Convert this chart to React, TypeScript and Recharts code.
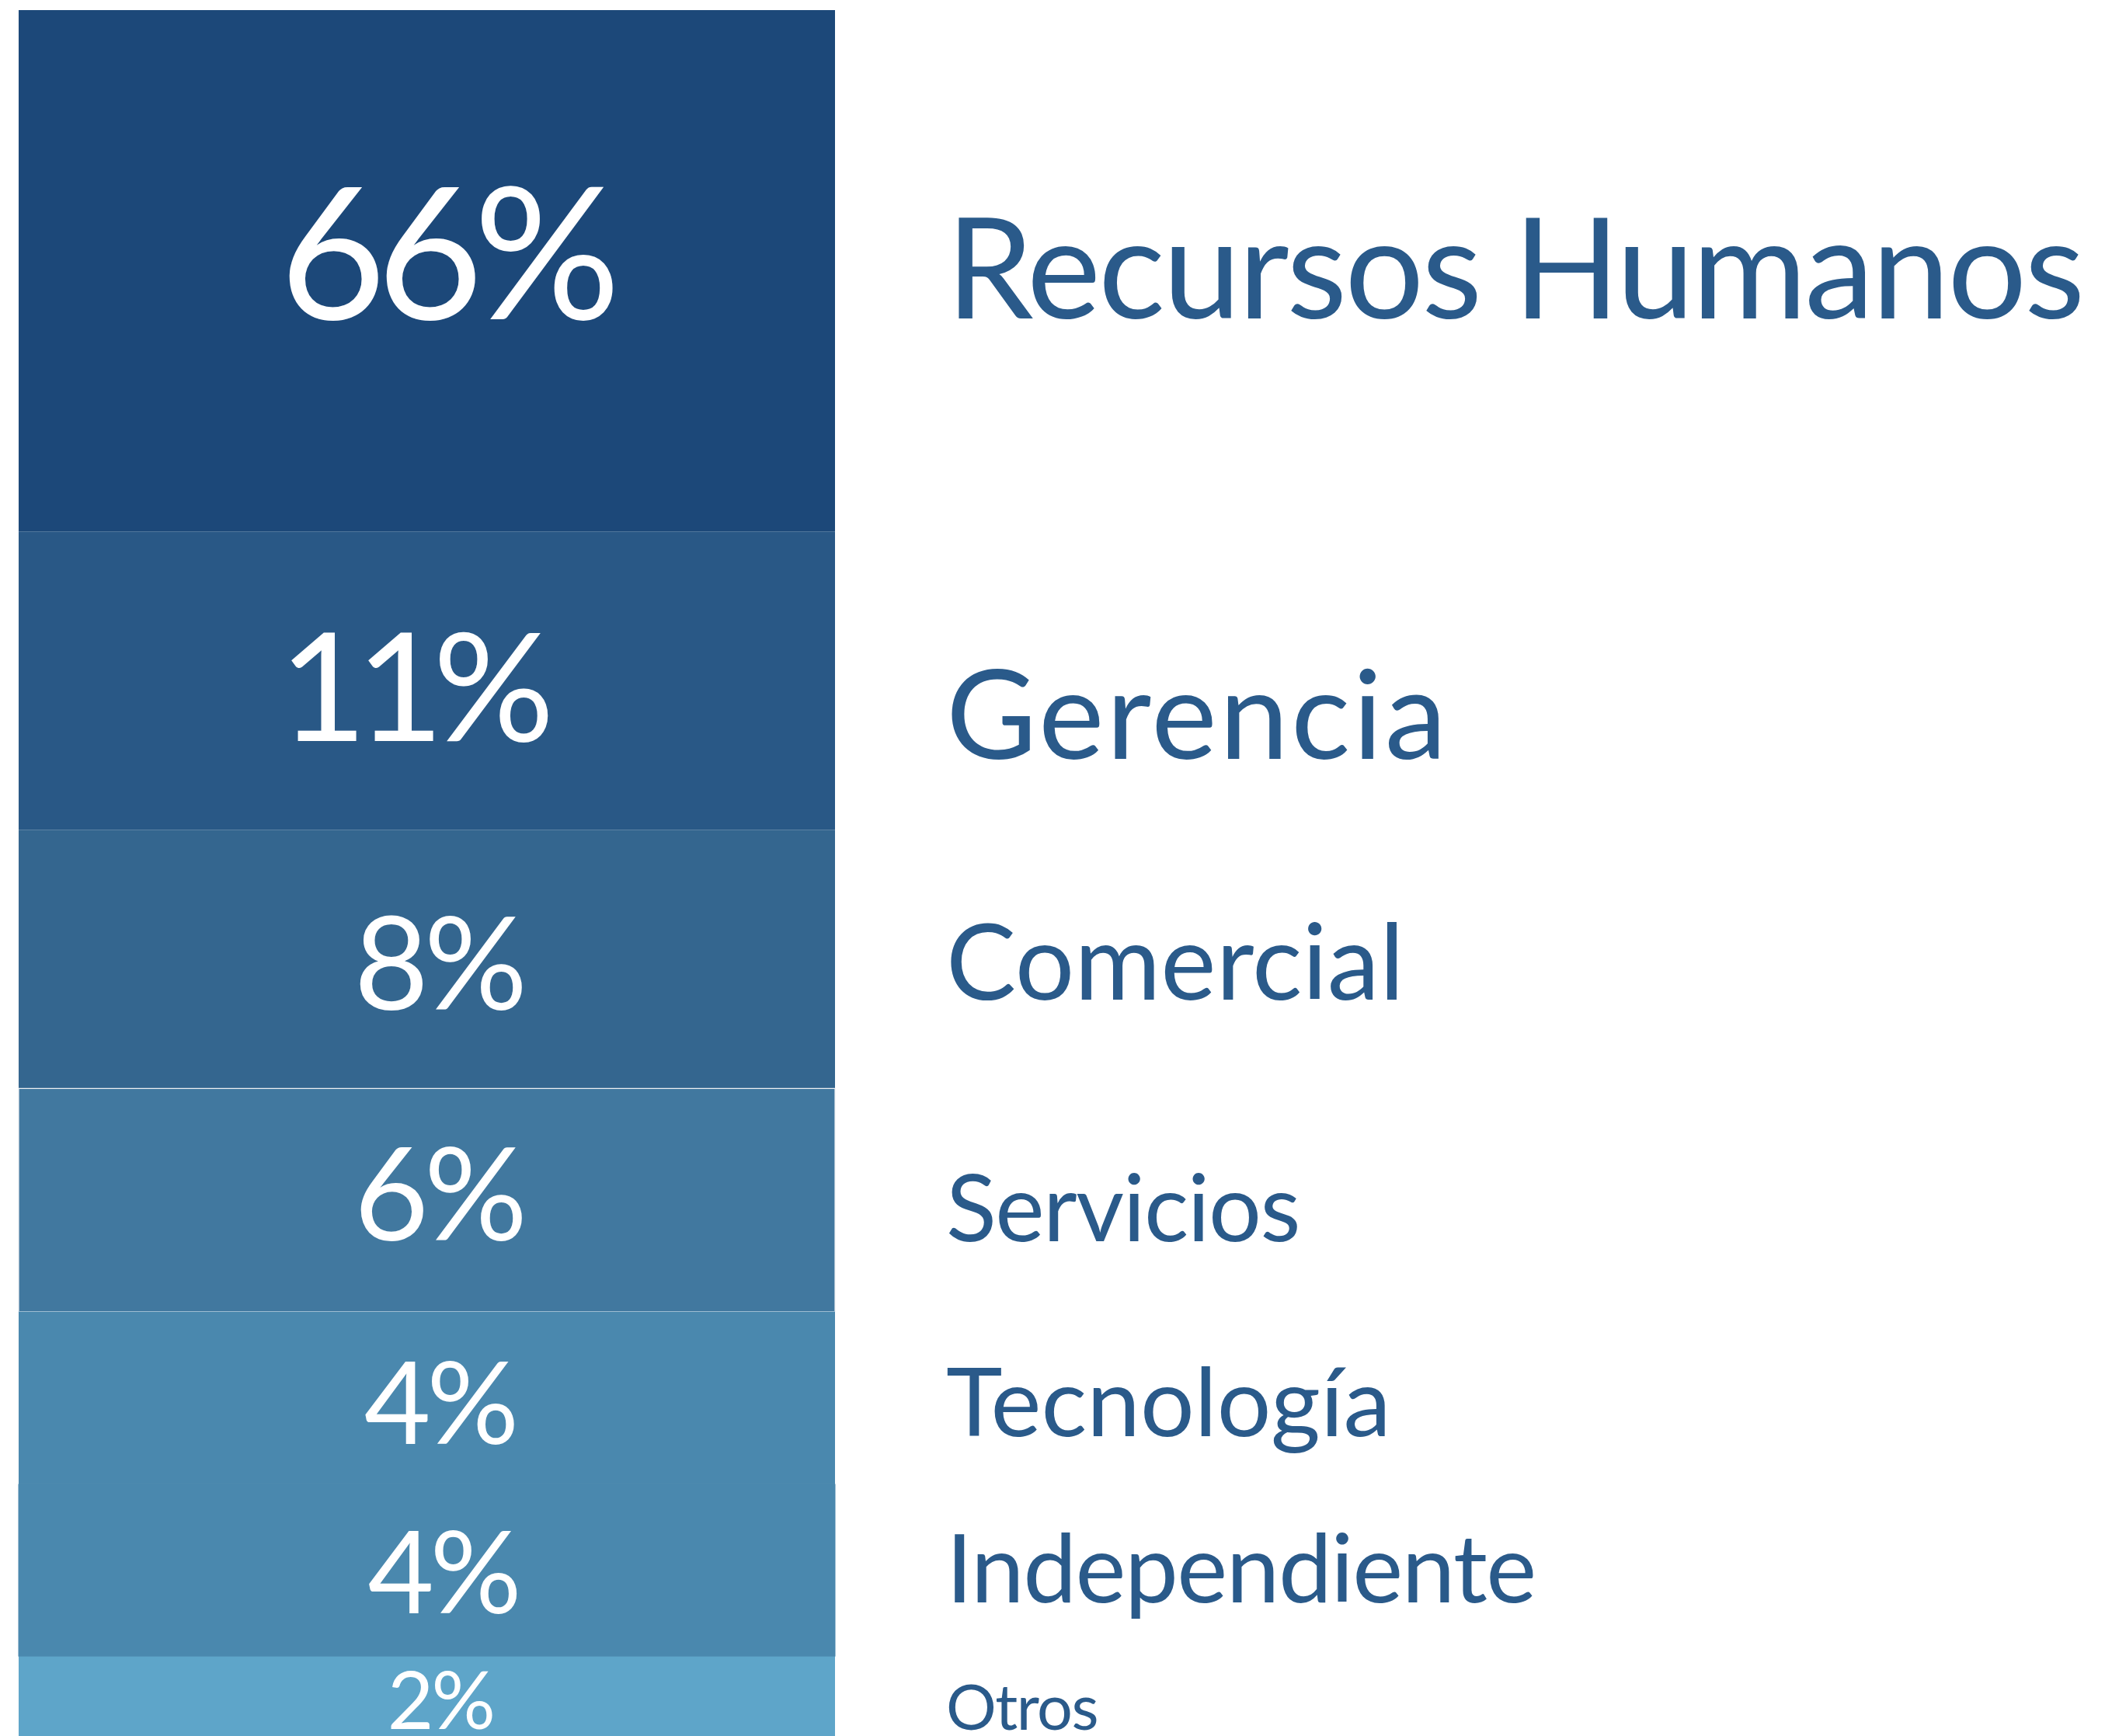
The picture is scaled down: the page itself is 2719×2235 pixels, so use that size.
import React from 'react';
import { BarChart, Bar, XAxis, YAxis, LabelList } from 'recharts';

// ---- data ----
const categories = ['Recursos Humanos', 'Gerencia', 'Comercial', 'Servicios', 'Tecnología', 'Independiente', 'Otros'];
const shares = [66, 11, 8, 6, 4, 4, 2];
const percentLabels = ['66%', '11%', '8%', '6%', '4%', '4%', '2%'];

// ---- styles ----
const colors = ['#1C4879', '#295886', '#34668F', '#41789F', '#4A88AE', '#4A88AE', '#5EA5C9'];
const percentFontSize = [236, 195, 166, 166, 148, 147, 103];
const percentSpacing = [-12, -14, -6, -6, -5, -5, -3];
const percentDx = [0, -45, -6, -6, -4, 0, -2];
const percentDy = [-22, 8, 6, -7, 6, 3, 1];
const nameFontSize = [180, 160, 135, 120, 123, 123, 81];
const nameSpacing = [-3, 3, 0, -1.5, 0, -1.5, -1.5];
const nameDy = [-3, 43, 4, 10, 5, -3, 10];
const TEXT_COLOR = '#2A5A8A';
const FONT = 'Lato, "Open Sans", sans-serif';

// The infographic compresses block heights logarithmically
const keys = categories.map((_, i) => `s${i}`);
const row: Record<string, number | string> = { name: 'Área' };
shares.forEach((v, i) => {
  row[keys[i]] = Math.log(v);
});
const chartData = [row];
const total = shares.reduce((a, v) => a + Math.log(v), 0);

const PAGE_W = 2719;
const PAGE_H = 2235;
const TOP = 13;
const LEFT = 24;
const BAR_RIGHT = 1075;
const PX_PER_UNIT = 160.2;
const CHART_H = TOP + total * PX_PER_UNIT;

const renderLabel = (p: any, i: number) => {
  const x = Number(p.x);
  const y = Number(p.y);
  const w = Number(p.width);
  const h = Number(p.height);
  const cy = y + h / 2;
  const pf = percentFontSize[i];
  const nf = nameFontSize[i];
  return (
    <g key={`lbl-${i}`}>
      <text
        x={x + w / 2 + 18 - percentSpacing[i] / 2 + percentDx[i]}
        y={cy + pf * 0.358 + percentDy[i]}
        textAnchor="middle"
        fill="#FFFFFF"
        fontSize={pf}
        fontFamily={FONT}
        letterSpacing={percentSpacing[i]}
      >
        {percentLabels[i]}
      </text>
      <text
        x={x + w + 143}
        y={cy + nf * 0.358 + nameDy[i]}
        fill={TEXT_COLOR}
        fontSize={nf}
        fontFamily={FONT}
        letterSpacing={nameSpacing[i]}
      >
        {categories[i]}
      </text>
    </g>
  );
};

export default function App() {
  return (
    <div
      style={{
        position: 'absolute',
        left: 0,
        top: 0,
        width: PAGE_W,
        height: PAGE_H,
        overflow: 'hidden',
        background: '#FFFFFF',
      }}
    >
      <BarChart
        width={PAGE_W}
        height={CHART_H}
        data={chartData}
        margin={{ top: TOP, left: LEFT, right: PAGE_W - BAR_RIGHT, bottom: 0 }}
        barCategoryGap={0}
        barGap={0}
      >
        <XAxis dataKey="name" type="category" hide height={0} />
        <YAxis type="number" hide width={0} domain={[0, total]} reversed allowDataOverflow />
        {keys.map((k, i) => (
          <Bar
            key={k}
            dataKey={k}
            stackId="a"
            fill={colors[i]}
            stroke={i === 3 ? '#EEF0F4' : i === 5 ? colors[i] : 'none'}
            strokeWidth={i === 3 ? 1.2 : i === 5 ? 1 : 0}
            isAnimationActive={false}
          >
            <LabelList dataKey={k} content={(p: any) => renderLabel(p, i)} />
          </Bar>
        ))}
      </BarChart>
    </div>
  );
}
